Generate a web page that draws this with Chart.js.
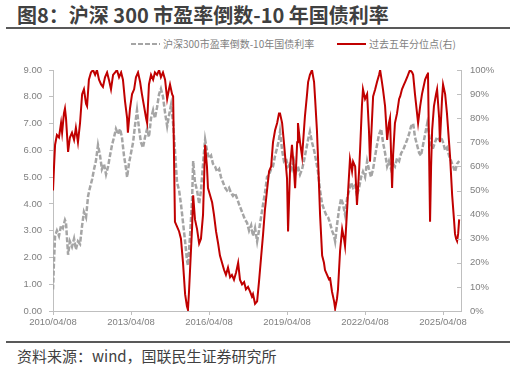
<!DOCTYPE html>
<html>
<head>
<meta charset="utf-8">
<script src="https://cdn.jsdelivr.net/npm/chart.js@4.4.1/dist/chart.umd.min.js"></script>
<style>
  body { margin: 0; width: 516px; height: 369px; background: #fff; position: relative; overflow: hidden; font-family: "Noto Sans CJK SC", sans-serif; }
  #title { position: absolute; left: 17px; top: 2px; font-size: 20px; font-weight: bold; color: #404040; line-height: 26px; white-space: nowrap; }
  .rule { position: absolute; left: 6px; width: 504px; height: 2px; background: #595959; }
  .item { position: absolute; top: 37px; font-size: 10px; line-height: 14px; color: #7f7f7f; white-space: nowrap; }
  .swatch { display: inline-block; width: 29px; height: 2px; vertical-align: middle; margin-right: 3px; position: relative; top: -1px; }
  #source { position: absolute; left: 17px; top: 346px; font-size: 15px; line-height: 20px; color: #404040; white-space: nowrap; }
  #wrap { position: absolute; left: 0; top: 30px; width: 516px; height: 310px; }
</style>
</head>
<body>
<div id="title">图8：沪深 300 市盈率倒数-10 年国债利率</div>
<div class="rule" style="top:27px"></div>
<div class="item" style="left:131px"><span class="swatch" style="background:repeating-linear-gradient(90deg,#a5a5a5 0 5px,transparent 5px 7px)"></span>沪深300市盈率倒数-10年国债利率</div>
<div class="item" style="left:337px"><span class="swatch" style="background:#c00000"></span>过去五年分位点(右)</div>
<div id="wrap"><canvas id="chart" width="516" height="310"></canvas></div>
<div class="rule" style="top:341px"></div>
<div id="source">资料来源：wind，国联民生证券研究所</div>

<script>
// decimal years
const grayDates = [2010.27,2010.31,2010.35,2010.42,2010.50,2010.58,2010.65,2010.73,2010.77,2010.85,2010.92,2011.00,2011.08,2011.15,2011.23,2011.31,2011.39,2011.46,2011.54,2011.62,2011.69,2011.77,2011.85,2011.92,2012.00,2012.08,2012.15,2012.23,2012.31,2012.39,2012.46,2012.54,2012.62,2012.69,2012.77,2012.85,2012.92,2013.00,2013.08,2013.12,2013.19,2013.27,2013.35,2013.42,2013.50,2013.58,2013.65,2013.73,2013.81,2013.89,2013.96,2014.04,2014.12,2014.19,2014.27,2014.35,2014.42,2014.50,2014.58,2014.66,2014.73,2014.81,2014.89,2014.96,2015.04,2015.12,2015.19,2015.27,2015.35,2015.42,2015.46,2015.54,2015.62,2015.66,2015.73,2015.81,2015.89,2015.96,2016.04,2016.12,2016.19,2016.27,2016.35,2016.42,2016.50,2016.58,2016.66,2016.73,2016.81,2016.89,2016.96,2017.04,2017.12,2017.19,2017.27,2017.35,2017.42,2017.50,2017.58,2017.66,2017.73,2017.81,2017.89,2017.96,2018.04,2018.12,2018.19,2018.27,2018.35,2018.42,2018.50,2018.58,2018.66,2018.73,2018.81,2018.89,2018.96,2019.00,2019.08,2019.15,2019.23,2019.31,2019.39,2019.46,2019.54,2019.62,2019.69,2019.77,2019.85,2019.92,2020.00,2020.08,2020.15,2020.23,2020.31,2020.39,2020.46,2020.54,2020.62,2020.69,2020.77,2020.85,2020.92,2021.00,2021.08,2021.12,2021.19,2021.27,2021.35,2021.42,2021.50,2021.58,2021.66,2021.73,2021.81,2021.89,2021.96,2022.04,2022.12,2022.19,2022.27,2022.35,2022.42,2022.50,2022.58,2022.66,2022.73,2022.81,2022.89,2022.96,2023.04,2023.12,2023.19,2023.27,2023.35,2023.42,2023.50,2023.58,2023.66,2023.73,2023.81,2023.89,2023.96,2024.04,2024.12,2024.19,2024.27,2024.35,2024.42,2024.50,2024.58,2024.66,2024.73,2024.81,2024.89,2024.96,2025.04,2025.12,2025.19,2025.27,2025.35,2025.42,2025.50,2025.58,2025.66,2025.73,2025.81,2025.89];
const grayValues = [0.8,1.9,2.8,3.0,2.8,3.2,3.1,3.4,3.3,2.1,2.6,2.4,2.7,2.3,2.6,2.5,3.2,3.7,3.5,4.3,4.6,4.9,5.3,5.6,6.2,5.8,5.3,5.5,5.1,5.4,5.8,6.2,6.5,6.8,6.6,6.8,6.5,5.8,5.3,5.0,5.5,5.9,6.3,6.9,7.5,6.8,6.3,6.1,6.5,6.8,6.5,7.2,7.5,7.2,7.6,8.1,8.3,8.0,7.4,6.9,7.3,7.7,7.0,6.0,4.8,4.5,4.0,3.3,2.6,1.9,1.7,2.8,4.2,5.6,4.8,4.5,4.0,4.5,5.5,6.4,6.0,5.7,5.8,5.5,5.4,5.2,5.3,5.0,4.8,4.6,4.5,4.6,4.4,4.3,4.4,4.2,4.0,3.8,3.6,3.4,3.3,3.0,3.2,2.8,3.1,2.6,3.0,3.5,4.0,4.4,5.0,5.1,5.3,5.4,5.8,6.1,6.4,6.7,6.0,5.6,5.7,5.4,5.5,5.3,5.6,5.2,5.4,5.1,5.3,5.6,6.0,6.4,6.7,6.3,6.0,5.6,5.2,4.5,4.0,3.8,3.6,3.5,3.3,3.0,2.8,2.6,3.2,3.8,4.2,4.0,3.6,4.2,4.5,4.8,4.6,4.7,4.3,4.6,5.0,5.2,5.0,5.6,5.3,5.0,5.3,5.8,6.2,6.6,6.8,6.3,5.9,5.4,5.6,5.3,5.5,5.4,5.7,5.6,5.9,6.0,6.2,6.4,6.6,6.9,7.0,6.5,6.2,5.9,5.8,6.2,6.6,7.0,6.6,6.1,6.1,6.3,6.5,6.4,6.5,6.3,6.0,6.1,5.8,5.6,5.4,5.2,5.5,5.6];

const redDates = [2010.27,2010.31,2010.35,2010.42,2010.50,2010.58,2010.62,2010.69,2010.73,2010.77,2010.85,2010.92,2011.00,2011.08,2011.15,2011.23,2011.31,2011.39,2011.46,2011.54,2011.58,2011.65,2011.73,2011.81,2011.89,2011.96,2012.04,2012.12,2012.19,2012.27,2012.35,2012.42,2012.50,2012.58,2012.66,2012.73,2012.81,2012.89,2012.96,2013.04,2013.12,2013.15,2013.23,2013.31,2013.39,2013.46,2013.54,2013.62,2013.69,2013.77,2013.85,2013.89,2013.96,2014.04,2014.12,2014.19,2014.27,2014.35,2014.42,2014.50,2014.58,2014.66,2014.73,2014.77,2014.85,2014.89,2014.96,2015.04,2015.12,2015.19,2015.27,2015.35,2015.42,2015.46,2015.50,2015.54,2015.62,2015.66,2015.73,2015.81,2015.89,2015.96,2016.04,2016.12,2016.19,2016.23,2016.31,2016.39,2016.46,2016.54,2016.62,2016.69,2016.77,2016.85,2016.92,2017.00,2017.08,2017.15,2017.23,2017.31,2017.39,2017.46,2017.54,2017.62,2017.69,2017.77,2017.85,2017.92,2017.96,2018.04,2018.12,2018.19,2018.27,2018.35,2018.42,2018.50,2018.58,2018.66,2018.73,2018.81,2018.89,2018.96,2019.00,2019.08,2019.15,2019.23,2019.27,2019.31,2019.39,2019.46,2019.54,2019.58,2019.66,2019.69,2019.77,2019.85,2019.92,2019.96,2020.04,2020.08,2020.15,2020.23,2020.31,2020.35,2020.42,2020.46,2020.54,2020.62,2020.69,2020.73,2020.81,2020.89,2020.92,2021.00,2021.08,2021.12,2021.19,2021.23,2021.31,2021.39,2021.46,2021.50,2021.58,2021.62,2021.69,2021.77,2021.81,2021.89,2021.96,2022.04,2022.08,2022.15,2022.19,2022.27,2022.35,2022.42,2022.46,2022.54,2022.58,2022.66,2022.73,2022.81,2022.85,2022.92,2022.96,2023.04,2023.12,2023.19,2023.23,2023.31,2023.35,2023.42,2023.50,2023.58,2023.62,2023.69,2023.77,2023.81,2023.89,2023.96,2024.00,2024.08,2024.12,2024.19,2024.27,2024.31,2024.39,2024.46,2024.50,2024.58,2024.66,2024.69,2024.77,2024.81,2024.85,2024.92,2025.00,2025.04,2025.12,2025.15,2025.23,2025.27,2025.35,2025.42,2025.50,2025.54,2025.62,2025.69,2025.73,2025.77,2025.81,2025.85,2025.89];
const redValues = [50,60,69,73,72,78,74,82,84,80,66,72,74,71,76,70,78,90,92,86,85,96,99,100,98,100,96,94,93,97,99,96,92,98,99,100,97,99,96,87,80,74,84,90,92,97,99,95,90,85,80,78,94,98,96,99,98,100,97,99,96,88,92,94,90,89,37,35,33,30,20,7,2,0.5,8,17,35,48,38,34,28,30,40,69,60,51,48,45,40,33,28,23,20,17,15,18,14,15,13,16,20,13,11,12,9,10,8,6,7,3,4,12,22,32,42,50,58,60,70,75,78,82,82,78,70,60,55,33,60,69,58,51,70,78,70,64,75,81,90,95,98,100,95,88,75,64,40,23,20,17,15,13,14,8,4,1,5,9,25,34,30,27,42,50,63,58,62,60,44,58,67,85,92,88,90,75,62,80,89,92,95,98,100,95,92,85,71,78,80,51,65,78,82,88,89,92,94,95,97,99,100,99,98,90,82,78,85,90,92,96,98,99,37,60,75,85,90,92,80,70,88,94,90,82,70,64,48,38,32,30,29,32,38];

const xTickDates = [2010.27, 2013.27, 2016.27, 2019.27, 2022.27, 2025.27];
const xTickLabels = ['2010/04/08', '2013/04/08', '2016/04/08', '2019/04/08', '2022/04/08', '2025/04/08'];

const axisColor = '#bfbfbf';
const tickFont = { family: 'Liberation Sans', size: 9.5 };

// right axis has its tick marks on the inside
const innerTicks = {
  id: 'innerTicks',
  afterDraw(chart) {
    const s = chart.scales.y1;
    const ctx = chart.ctx;
    ctx.save();
    ctx.strokeStyle = axisColor;
    ctx.lineWidth = 1;
    s.ticks.forEach(t => {
      const y = Math.round(s.getPixelForValue(t.value)) + 0.5;
      ctx.beginPath();
      ctx.moveTo(s.left - 4, y);
      ctx.lineTo(s.left, y);
      ctx.stroke();
    });
    ctx.restore();
  }
};

new Chart(document.getElementById('chart'), {
  type: 'line',
  data: {
    datasets: [
      {
        label: '沪深300市盈率倒数-10年国债利率',
        data: grayDates.map((d, i) => ({ x: d, y: grayValues[i] })),
        yAxisID: 'y',
        borderColor: '#a5a5a5',
        borderWidth: 2.5,
        borderDash: [5, 2],
        pointRadius: 0,
        order: 2
      },
      {
        label: '过去五年分位点(右)',
        data: redDates.map((d, i) => ({ x: d, y: redValues[i] })),
        yAxisID: 'y1',
        borderColor: '#c00000',
        borderWidth: 2,
        pointRadius: 0,
        order: 1
      }
    ]
  },
  options: {
    responsive: false,
    animation: false,
    devicePixelRatio: 1,
    layout: { padding: { top: 40, left: 0, right: 0, bottom: 0 } },
    plugins: {
      legend: { display: false },
      tooltip: { enabled: false }
    },
    scales: {
      x: {
        type: 'linear',
        min: 2010.27,
        max: 2025.96,
        afterBuildTicks: scale => { scale.ticks = xTickDates.map(v => ({ value: v })); },
        afterFit: scale => { scale.height = 29; },
        grid: { drawOnChartArea: false, color: axisColor, tickLength: 4 },
        border: { color: axisColor },
        ticks: {
          autoSkip: false,
          maxRotation: 0,
          padding: 2,
          color: '#7f7f7f',
          font: tickFont,
          callback: (v, i) => xTickLabels[i]
        }
      },
      y: {
        position: 'left',
        min: 0,
        max: 9,
        afterFit: scale => { scale.width = 53; },
        grid: { drawOnChartArea: false, color: axisColor, tickLength: 4 },
        border: { color: axisColor },
        ticks: {
          stepSize: 1,
          padding: 7,
          color: '#7f7f7f',
          font: tickFont,
          callback: v => v.toFixed(2)
        }
      },
      y1: {
        position: 'right',
        min: 0,
        max: 100,
        afterFit: scale => { scale.width = 55; },
        grid: { drawOnChartArea: false, drawTicks: false },
        border: { color: axisColor },
        ticks: {
          stepSize: 10,
          padding: 9,
          color: '#7f7f7f',
          font: tickFont,
          callback: v => v + '%'
        }
      }
    }
  },
  plugins: [innerTicks]
});
</script>
</body>
</html>
